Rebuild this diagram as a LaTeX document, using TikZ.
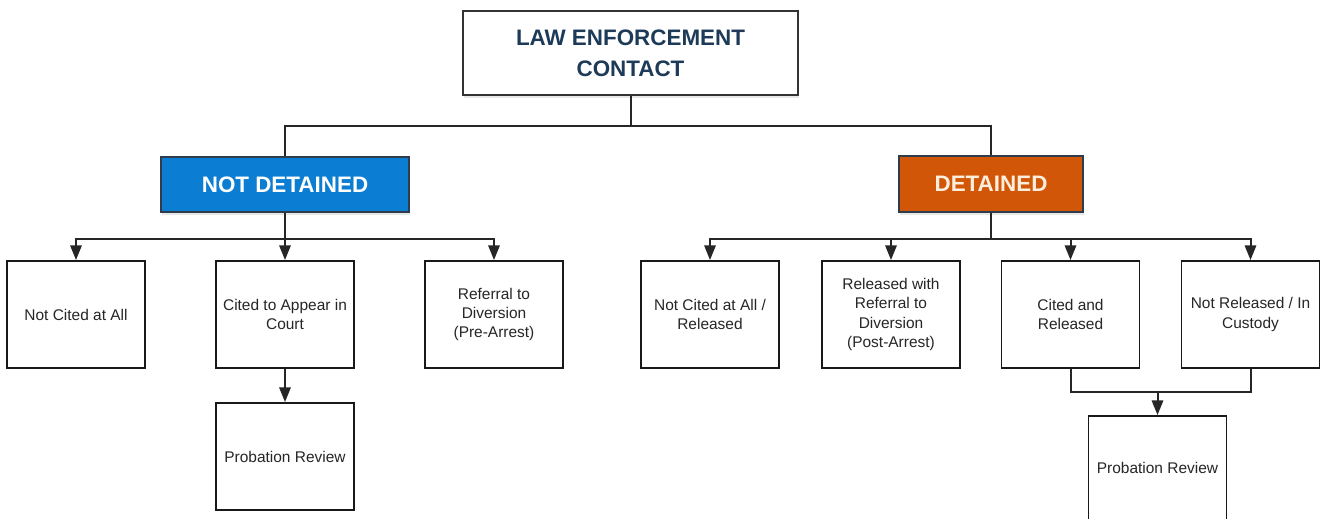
\documentclass[tikz,border=0pt]{standalone}
\usepackage{fontspec}
\setmainfont{Liberation Sans}
\usetikzlibrary{arrows.meta,shadows}
\definecolor{navy}{HTML}{1D3B58}
\definecolor{edgegray}{HTML}{333333}
\definecolor{ndblue}{HTML}{0B7DD2}
\definecolor{dorange}{HTML}{D25608}
\definecolor{boxedge}{HTML}{2E3C4C}
\definecolor{cream}{HTML}{FCEEDD}
\begin{document}
\begin{tikzpicture}[x=0.75pt,y=-0.75pt,
 box/.style={draw=black!90, line width=1.4pt, minimum width=103.5pt, minimum height=80.25pt, align=center, font=\fontsize{11.6}{14.3}\selectfont, inner sep=2pt, text=black!85},
 head/.style={draw=boxedge, line width=2.2pt, font=\bfseries\fontsize{16.8}{23}\selectfont, align=center, drop shadow={opacity=0.18, shadow xshift=1pt, shadow yshift=-2pt}},
 conn/.style={line width=1.5pt, draw=black!85},
 arr/.style={conn, -{Triangle[length=11pt,width=8.5pt]}}
]
\useasboundingbox (0,0) rectangle (1325,518);
\clip (0,0) rectangle (1325,518);
\fill[white] (0,0) rectangle (1325,518);

\node[head, draw=edgegray, text=navy, fill=white, minimum width=251.25pt, minimum height=63pt] (top) at (630.5,53) {LAW ENFORCEMENT\\CONTACT};
\node[head, fill=ndblue, text=white, minimum width=186pt, minimum height=41.25pt] (nd) at (285,184.5) {NOT DETAINED};
\node[head, fill=dorange, text=cream, minimum width=138pt, minimum height=42pt] (det) at (991,184) {DETAINED};

\node[box] (l1) at (76,314.5) {Not Cited at All};
\node[box] (l2) at (285,314.5) {Cited to Appear in\\Court};
\node[box] (l3) at (494,314.5) {Referral to\\Diversion\\(Pre-Arrest)};
\node[box] (pl) at (285,456.5) {Probation Review};

\node[box] (r1) at (710,314.5) {Not Cited at All /\\Released};
\node[box] (r2) at (891,314.5) {Released with\\Referral to\\Diversion\\(Post-Arrest)};
\node[box] (r3) at (1070.5,314.5) {Cited and\\Released};
\node[box] (r4) at (1250.5,314.5) {Not Released / In\\Custody};
\node[box, minimum height=78pt] (pr) at (1157.5,468) {Probation Review};

\draw[conn] (top.south) -- ++(0,30) coordinate (j0) -| (nd.north);
\draw[conn] (j0) -| (det.north);

\draw[conn] (nd.south) -- ++(0,26) coordinate (b1);
\draw[arr] (b1) -| (l1.north);
\draw[arr] (b1) -- (l2.north);
\draw[arr] (b1) -| (l3.north);
\draw[arr] (l2.south) -- (pl.north);

\draw[conn] (det.south) -- ++(0,26) coordinate (b2);
\draw[arr] (b2) -| (r1.north);
\draw[arr] (b2) -| (r2.north);
\draw[arr] (b2) -| (r3.north);
\draw[arr] (b2) -| (r4.north);

\coordinate (mj) at (1157.5,392);
\draw[conn] (r3.south) |- (mj) -| (r4.south);
\draw[arr] (mj) -- (pr.north);
\end{tikzpicture}
\end{document}
